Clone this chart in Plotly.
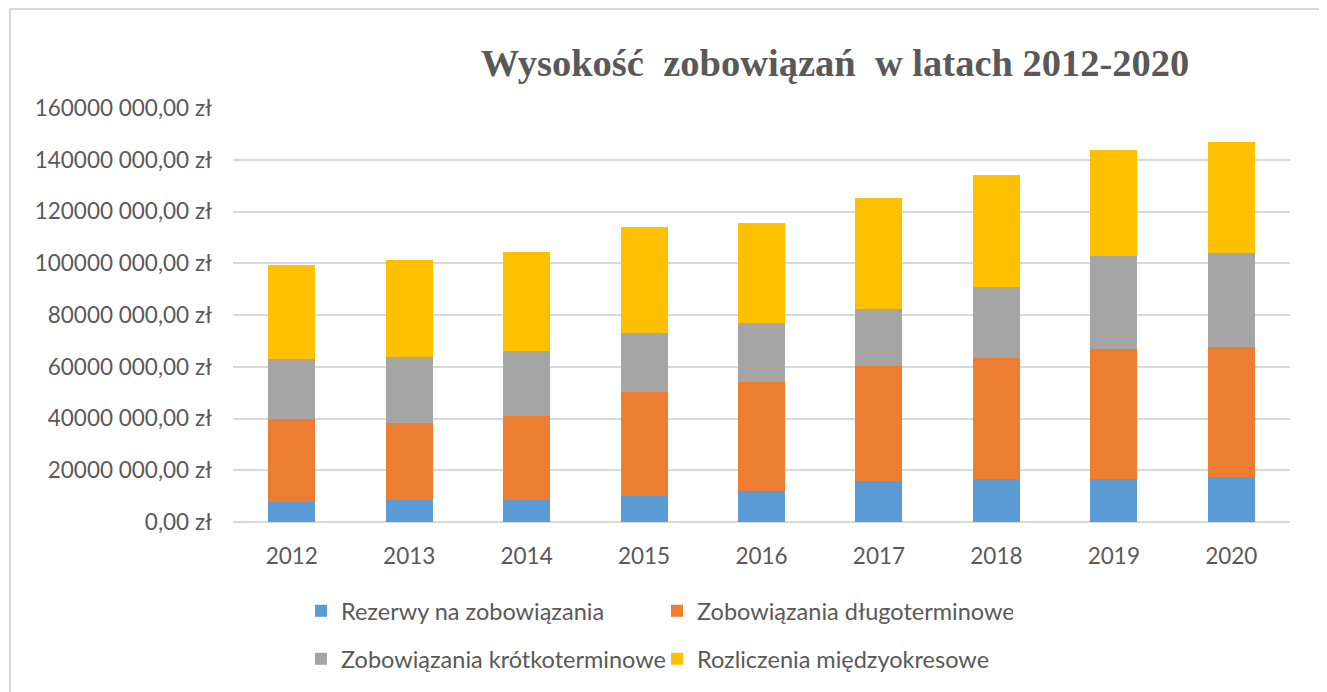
import plotly.graph_objects as go

years = ["2012", "2013", "2014", "2015", "2016", "2017", "2018", "2019", "2020"]
rezerwy = [7.8e6, 8.4e6, 8.4e6, 10.0e6, 11.9e6, 15.7e6, 16.7e6, 16.7e6, 17.2e6]
dlugoterminowe = [32.0e6, 29.9e6, 32.6e6, 40.4e6, 42.1e6, 44.6e6, 46.7e6, 50.0e6, 50.5e6]
krotkoterminowe = [23.3e6, 25.3e6, 25.2e6, 22.5e6, 23.1e6, 22.1e6, 27.4e6, 36.2e6, 36.3e6]
rozliczenia = [36.1e6, 37.8e6, 38.3e6, 41.1e6, 38.4e6, 42.7e6, 43.2e6, 41.0e6, 43.0e6]

series_names = ["Rezerwy na zobowiązania", "Zobowiązania długoterminowe",
                "Zobowiązania krótkoterminowe", "Rozliczenia międzyokresowe"]
series_colors = ["#5B9BD5", "#ED7D31", "#A5A5A5", "#FFC000"]

tick_vals = [0, 20e6, 40e6, 60e6, 80e6, 100e6, 120e6, 140e6, 160e6]
tick_text = ["0,00 zł", "20000 000,00 zł", "40000 000,00 zł", "60000 000,00 zł",
             "80000 000,00 zł", "100000 000,00 zł", "120000 000,00 zł",
             "140000 000,00 zł", "160000 000,00 zł"]

title_text = "Wysokość  zobowiązań  w latach 2012-2020"

# page body has an 8px margin; figure coordinates below are screen minus 8
W, H = 1319, 684
L, R, T, B = 225, 37, 100, 170
pw, ph = W - L - R, H - T - B

TXT = "#595959"
FONT = "Lato"

fig = go.Figure()
data = [rezerwy, dlugoterminowe, krotkoterminowe, rozliczenia]
legends = ["legend", "legend", "legend2", "legend2"]
for name, vals, col, lg in zip(series_names, data, series_colors, legends):
    fig.add_trace(go.Bar(x=years, y=vals, name=name, marker_color=col,
                         marker_line_width=0, legend=lg))

def px_x(x):
    return (x - L) / pw

def px_y(y):
    return (H - B - y) / ph

legend_common = dict(orientation="h", entrywidth=311, entrywidthmode="pixels",
                     font=dict(family=FONT, size=23.5, color=TXT),
                     bgcolor="rgba(0,0,0,0)", xanchor="left", yanchor="middle",
                     itemclick=False, traceorder="normal")

fig.update_layout(
    width=W, height=H,
    margin=dict(l=L, r=R, t=T, b=B, autoexpand=False),
    paper_bgcolor="white", plot_bgcolor="white",
    barmode="stack", bargap=0.6,
    title=dict(text=title_text, x=827 / W, xanchor="center",
               y=1 - 55 / H, yanchor="middle",
               font=dict(family="Liberation Serif", size=38.5, color=TXT, weight="bold")),
    xaxis=dict(showgrid=False, showline=False, ticks="", ticklabelstandoff=18,
               tickfont=dict(family=FONT, size=22.5, color=TXT)),
    yaxis=dict(range=[0, 160e6], tickvals=tick_vals, ticktext=tick_text,
               showgrid=True, gridcolor="#D9D9D9", gridwidth=1.5,
               zeroline=True, zerolinecolor="#D9D9D9", zerolinewidth=1.5,
               showline=False, ticks="", ticklabelstandoff=20,
               tickfont=dict(family=FONT, size=22.5, color=TXT)),
    legend=dict(x=px_x(293), y=px_y(603), **legend_common),
    legend2=dict(x=px_x(293), y=px_y(651), **legend_common),
    shapes=[dict(type="rect", xref="paper", yref="paper",
                 x0=px_x(2), x1=px_x(1313), y0=px_y(700), y1=px_y(1),
                 line=dict(color="#D9D9D9", width=2), fillcolor="rgba(0,0,0,0)",
                 layer="below")],
)

fig.write_html("out.html")
